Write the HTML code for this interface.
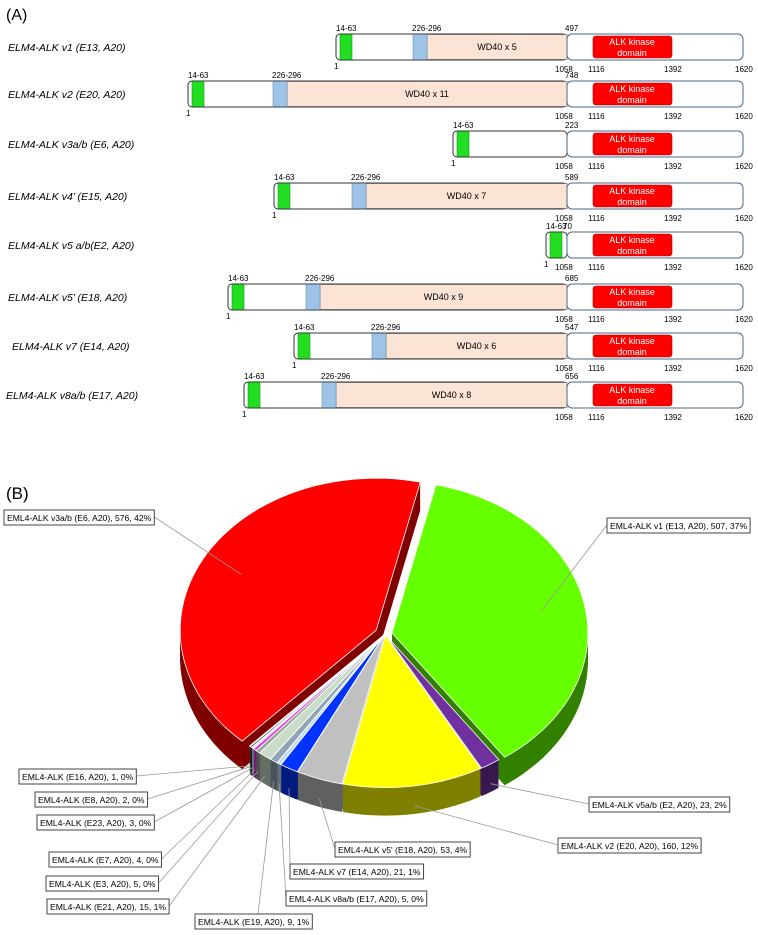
<!DOCTYPE html>
<html><head><meta charset="utf-8"><style>
body{margin:0;background:#fff;width:758px;height:930px;overflow:hidden}
svg{font-family:"Liberation Sans",sans-serif}
</style></head><body>
<svg id="s" width="758" height="930" viewBox="0 0 758 930">
<text x="6" y="20" font-size="16">(A)</text>
<text x="6" y="499" font-size="17">(B)</text>
<g id="A"></g>
<g id="B"></g>
</svg>
<script>
const NS='http://www.w3.org/2000/svg';
function mk(p,t,a,txt){const e=document.createElementNS(NS,t);for(const k in a)e.setAttribute(k,a[k]);if(txt!==undefined)e.textContent=txt;p.appendChild(e);return e;}
// Panel A data
const variantNames=["ELM4-ALK v1 (E13, A20)","ELM4-ALK v2 (E20, A20)","ELM4-ALK v3a/b (E6, A20)","ELM4-ALK v4\u2019 (E15, A20)","ELM4-ALK v5 a/b(E2, A20)","ELM4-ALK v5\u2019 (E18, A20)","ELM4-ALK v7 (E14, A20)","ELM4-ALK v8a/b (E17, A20)"];
const variantLengths=[497,748,223,589,70,685,547,656];
const wd40Labels=["WD40 x 5","WD40 x 11","","WD40 x 7","","WD40 x 9","WD40 x 6","WD40 x 8"];
const rowY=[34,81,131,183,232,284,333,382];
const leftX=[336,188,453,274,546,228,294,244];
const labelX=[8,8,8,8,8,8,12,6];
const A=document.getElementById('A');
rowY.forEach((y,i)=>{
  const g=mk(A,'g',{});
  
  const l=leftX[i],h=26,aL=567,aR=743;
  const t=mk(g,'text',{x:labelX[i],y:y+17,'font-size':10.5,'font-style':'italic'},variantNames[i]);
  
  const eb=mk(g,'rect',{x:l,y:y,width:aL-l,height:h,rx:4,fill:'#fff',stroke:'#333','stroke-width':1});
  
  const hasBlue=wd40Labels[i]!=='';
  if(hasBlue){
    const bx=l+(i==1?85:i==0?77:78);
    const w=mk(g,'rect',{x:bx+14,y:y+0.5,width:aL-bx-14,height:h-1,fill:'#fbe3d5',stroke:'#555','stroke-width':0.6});
    
    const b=mk(g,'rect',{x:bx,y:y+0.5,width:14,height:h-1,fill:'#9dc3e6',stroke:'#6b8fb3','stroke-width':0.6});
    
    const wt=mk(g,'text',{x:(bx+14+aL)/2,y:y+16,'font-size':9,'text-anchor':'middle'},wd40Labels[i]);
    
    const bl=mk(g,'text',{x:bx-1,y:y-3,'font-size':8},'226-296');
    
  }
  const gr=mk(g,'rect',{x:l+4,y:y+0.5,width:12,height:h-1,fill:'#22dd22',stroke:'#1a991a','stroke-width':0.6});
  
  const gl=mk(g,'text',{x:l,y:y-3,'font-size':8},'14-63');
  
  const ab=mk(g,'rect',{x:aL,y:y,width:aR-aL,height:h,rx:5,fill:'#fff',stroke:'#4a6a8a','stroke-width':1});
  
  const k=mk(g,'rect',{x:593,y:y+2,width:79,height:h-4,rx:3,fill:'#ff0000',stroke:'#a00','stroke-width':0.6});
  
  const k1=mk(g,'text',{x:632,y:y+11,'font-size':9,fill:'#fff','text-anchor':'middle'},'ALK kinase');
  
  const k2=mk(g,'text',{x:632,y:y+22,'font-size':9,fill:'#fff','text-anchor':'middle'},'domain');
  
  const ln=mk(g,'text',{x:i==4?563:565,y:y-3,'font-size':8},String(variantLengths[i]));
  
  const n1=mk(g,'text',{x:l-2,y:y+h+9,'font-size':8},'1');
  
  [['1058',555],['1116',588],['1392',664],['1620',735]].forEach(p=>{
    const e=mk(g,'text',{x:p[1],y:y+h+12,'font-size':8},p[0]);
    
  });
});
// Panel B pie data
const sliceNames=["EML4-ALK v1 (E13, A20)","EML4-ALK v5a/b (E2, A20)","EML4-ALK v2 (E20, A20)","EML4-ALK v5' (E18, A20)","EML4-ALK v7 (E14, A20)","EML4-ALK v8a/b (E17, A20)","EML4-ALK (E19, A20)","EML4-ALK (E21, A20)","EML4-ALK (E3, A20)","EML4-ALK (E7, A20)","EML4-ALK (E23, A20)","EML4-ALK (E8, A20)","EML4-ALK (E16, A20)","EML4-ALK v3a/b (E6, A20)"];
const sliceValues=[507,23,160,53,21,5,9,15,5,4,3,2,1,576];
const slicePercents=["37%","2%","12%","4%","1%","0%","1%","1%","0%","0%","0%","0%","0%","42%"];
const sliceColors=["#66ff00","#7030a0","#ffff00","#c0c0c0","#0033ff","#c5ddf0","#8fa5b5","#c8dcc8","#9aa69a","#e040e0","#e8e8ff","#111111","#40a0a0","#ff0000"];
const labelBoxes=[[607,518],[589,797],[558,838],[335,842],[290,864],[286,891],[195,914],[47,899],[46,876],[49,852],[37,815],[35,792],[19,769],[4,510]];
const B=document.getElementById('B');
const cx=385,cy=634,rx=196,ry=152,depth=28,a0=13;
const total=sliceValues.reduce((a,b)=>a+b,0);
function pt(a,r,ox,oy,dy){const t=a*Math.PI/180;return [cx+ox+rx*r*Math.sin(t),cy+oy-ry*r*Math.cos(t)+dy];}
function dark(c){const n=parseInt(c.slice(1),16);const f=x=>Math.round(x*0.5).toString(16).padStart(2,'0');return '#'+f(n>>16&255)+f(n>>8&255)+f(n&255);}
let cum=0;const sl=[];
sliceValues.forEach((v,i)=>{const s=a0+cum/total*360;cum+=v;const e=a0+cum/total*360;const m=(s+e)/2;
  const ex=i==13?10:i==0?7:2;const ox=ex*Math.sin(m*Math.PI/180),oy=-ex*Math.cos(m*Math.PI/180)*0.8;sl.push({s,e,m,ox,oy,i});});
function path(o,dy){const p0=pt(0,0,o.ox,o.oy,dy);let d='M'+p0[0].toFixed(1)+','+p0[1].toFixed(1);
  const st=Math.max(0.5,(o.e-o.s)/60);
  for(let a=o.s;a<=o.e+0.001;a+=st){const p=pt(Math.min(a,o.e),1,o.ox,o.oy,dy);d+='L'+p[0].toFixed(1)+','+p[1].toFixed(1);}
  const pe=pt(o.e,1,o.ox,o.oy,dy);d+='L'+pe[0].toFixed(1)+','+pe[1].toFixed(1)+'Z';return d;}
for(let d=depth;d>0;d-=1){sl.forEach(o=>{const e=mk(B,'path',{d:path(o,d),fill:dark(sliceColors[o.i])});
  });}
sl.forEach(o=>{const e=mk(B,'path',{d:path(o,0),fill:sliceColors[o.i],stroke:'#fff','stroke-width':0.8});
  });
// labels
sl.forEach(o=>{const i=o.i;const bx=labelBoxes[i][0],by=labelBoxes[i][1];
  const txt=sliceNames[i]+', '+sliceValues[i]+', '+slicePercents[i];
  const r=mk(B,'rect',{x:bx,y:by,width:10,height:15,fill:'#fff',stroke:'#444','stroke-width':1});
  
  const t=mk(B,'text',{x:bx+3,y:by+11,'font-size':8.6},txt);
  
  const w=t.getComputedTextLength()+6;r.setAttribute('width',w);
  const big=(i==0||i==13);
  const anchor=pt(o.m,big?0.78:1,o.ox,o.oy,big?0:depth*0.7);
  let ex,ey;
  if(i==13||(i>=7&&i<=12)){ex=bx+w;ey=by+7;}
  else if(i==6){ex=bx+63;ey=by;}
  else{ex=bx;ey=by+7;}
  const ln=mk(B,'line',{x1:anchor[0],y1:anchor[1],x2:ex,y2:ey,stroke:'#999','stroke-width':0.8});
  
  B.insertBefore(ln,r);
});
</script>
</body></html>
